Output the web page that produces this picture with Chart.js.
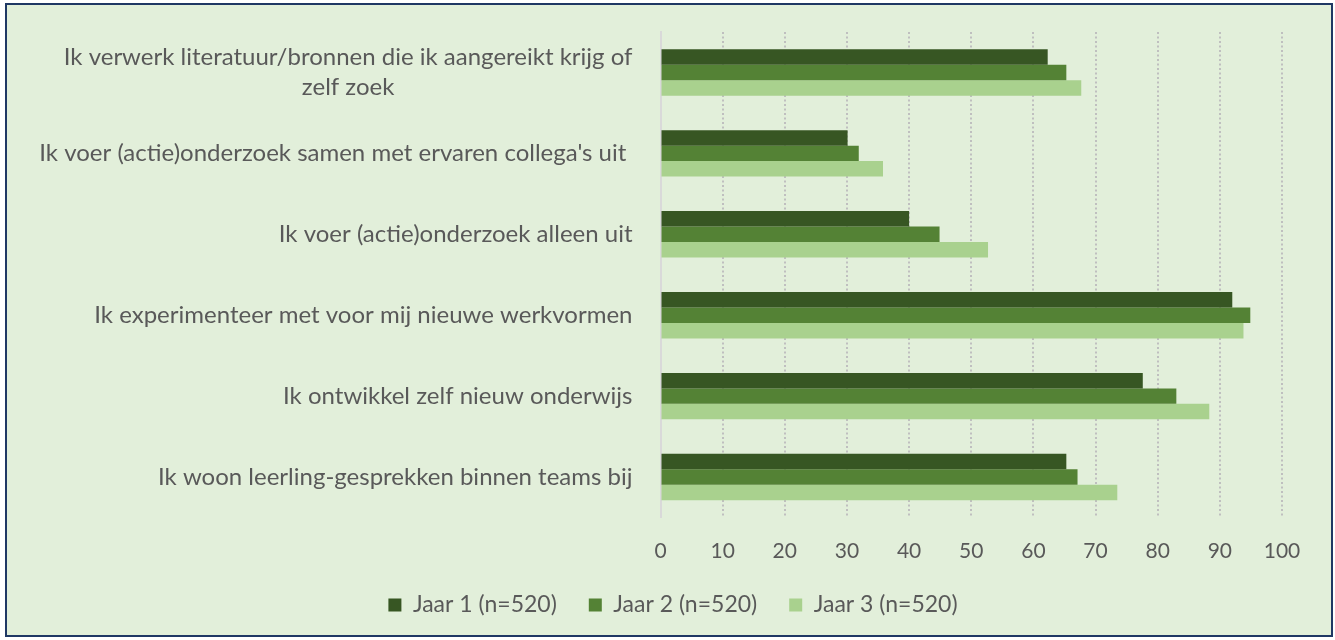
<!DOCTYPE html>
<html>
<head>
<meta charset="utf-8">
<script src="https://cdn.jsdelivr.net/npm/chart.js@4/dist/chart.umd.min.js"></script>
<style>
html,body{margin:0;padding:0;background:#ffffff;width:1335px;height:640px;overflow:hidden}
#frame{position:absolute;left:5px;top:3px;width:1328px;height:634px;box-sizing:border-box;border:2px solid #1f3864;background:#e2efda}
#wrap{position:absolute;left:0;top:0;width:1335px;height:640px}
</style>
</head>
<body>
<div id="frame"></div>
<div id="wrap"><canvas id="c" width="1335" height="640"></canvas></div>
<script>
const categories = [
  ["Ik verwerk literatuur/bronnen die ik aangereikt krijg of", "zelf zoek"],
  "Ik voer (actie)onderzoek samen met ervaren collega's uit ",
  "Ik voer (actie)onderzoek alleen uit",
  "Ik experimenteer met voor mij nieuwe werkvormen",
  "Ik ontwikkel zelf nieuw onderwijs",
  "Ik woon leerling-gesprekken binnen teams bij"
];
const seriesNames = ["Jaar 1 (n=520)", "Jaar 2 (n=520)", "Jaar 3 (n=520)"];
const jaar1 = [62.3, 30.1, 40.0, 92.0, 77.6, 65.3];
const jaar2 = [65.3, 31.9, 44.9, 94.9, 83.0, 67.1];
const jaar3 = [67.7, 35.8, 52.7, 93.8, 88.3, 73.5];
const xTicks = [0, 10, 20, 30, 40, 50, 60, 70, 80, 90, 100];

const colors = ["#375623", "#548235", "#a9d18e"];
const FONT = "Lato, Carlito, 'Liberation Sans', sans-serif";
const TEXT = "#595959";

const yLabelPlugin = {
  id: 'yLabels',
  afterDraw(chart) {
    const ctx = chart.ctx;
    const ys = chart.scales.y;
    ctx.save();
    ctx.font = "24px " + FONT;
    ctx.fillStyle = TEXT;
    ctx.textBaseline = 'middle';
    ctx.textAlign = 'center';
    const right = ys.right - 28;
    const lh = 30;
    categories.forEach((lab, i) => {
      const lines = Array.isArray(lab) ? lab : [lab];
      const cy = ys.getPixelForTick(i);
      const w = Math.max(...lines.map(l => ctx.measureText(l).width));
      lines.forEach((l, j) => {
        ctx.fillText(l, right - w / 2, cy + (j - (lines.length - 1) / 2) * lh);
      });
    });
    ctx.restore();
  }
};

new Chart(document.getElementById('c'), {
  type: 'bar',
  data: {
    labels: categories,
    datasets: [
      { label: seriesNames[0], data: jaar1, backgroundColor: colors[0] },
      { label: seriesNames[1], data: jaar2, backgroundColor: colors[1] },
      { label: seriesNames[2], data: jaar3, backgroundColor: colors[2] }
    ]
  },
  options: {
    indexAxis: 'y',
    responsive: false,
    animation: false,
    devicePixelRatio: 1,
    datasets: { bar: { categoryPercentage: 0.574, barPercentage: 1.0, borderWidth: 0 } },
    layout: { padding: { top: 32, right: 53, left: 64, bottom: 13.5 } },
    plugins: {
      tooltip: { enabled: false },
      legend: {
        position: 'bottom',
        labels: {
          font: { family: FONT, size: 23 },
          color: TEXT,
          boxWidth: 13,
          boxHeight: 13,
          padding: 32
        }
      }
    },
    scales: {
      x: {
        min: 0, max: 100,
        afterBuildTicks: s => { s.ticks = xTicks.map(v => ({ value: v })); },
        afterFit: s => { s.height = 44; s.paddingLeft = 0; s.paddingRight = 0; },
        ticks: { font: { family: FONT, size: 21 }, color: TEXT, padding: 21, maxRotation: 0 },
        grid: {
          drawTicks: false,
          color: ctx => (ctx.tick && ctx.tick.value === 0) ? 'rgba(0,0,0,0)' : '#bfbfbf',
          lineWidth: 2,
          borderDash: [2, 2.5]
        },
        border: { display: false, dash: [2, 2.5] }
      },
      y: {
        afterFit: s => { s.width = 596.5; },
        ticks: { display: false },
        grid: { display: false, drawTicks: false },
        border: { display: true, color: '#d9d9d9', width: 2 }
      }
    }
  },
  plugins: [yLabelPlugin]
});
</script>
</body>
</html>
